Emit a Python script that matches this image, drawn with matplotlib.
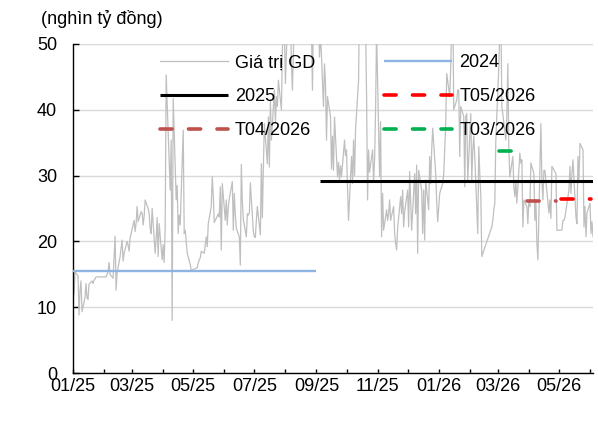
import pandas as pd
import matplotlib
matplotlib.use('Agg')
import matplotlib.pyplot as plt
import matplotlib.dates as mdates

plt.rcParams['font.family'] = ['Liberation Sans', 'DejaVu Sans']
plt.rcParams['font.size'] = 13

# Daily trading value (thousand bn VND), one list per month of trading days
jan25 = [12.0, 15.3, 14.8, 8.8, 12.5, 14.0, 9.3, 11.5, 13.6, 11.4, 11.2, 13.5, 14.0, 13.6, 14.1, 14.3, 14.6]
feb25 = [14.6, 15.0, 15.4, 16.8, 15.0, 14.4, 17.5, 20.8, 12.6, 15.2, 17.7, 19.0, 20.2, 17.0, 18.2, 20.0, 19.4, 18.5, 20.5, 21.2]
mar25 = [23.2, 21.5, 22.8, 25.3, 23.0, 24.5, 24.3, 22.5, 23.8, 26.3, 25.0, 24.3, 22.0, 21.2, 25.0, 18.2, 20.5, 23.6, 17.7, 22.7, 17.2]
apr25 = [19.5, 16.8, 22.0, 45.3, 27.8, 35.4, 8.0, 41.7, 26.3, 28.5, 21.2, 24.0, 22.5, 36.9, 21.2, 21.7, 20.0, 18.2, 16.5, 15.6]
may25 = [16.0, 16.7, 17.2, 17.5, 18.5, 18.2, 19.5, 20.7, 19.2, 22.7, 25.3, 29.8, 27.0, 22.9, 23.2, 24.2, 23.7, 28.3, 18.7, 28.8]
jun25 = [23.2, 26.3, 22.5, 25.3, 26.5, 29.1, 21.7, 27.3, 24.0, 22.0, 20.7, 16.4, 31.7, 26.0, 23.3, 20.7, 24.2, 24.0, 24.3, 28.9, 21.5]
jul25 = [20.7, 20.6, 23.2, 25.3, 21.0, 31.8, 23.6, 31.3, 37.9, 31.8, 38.9, 31.3, 41.5, 35.4, 43.0, 37.9, 42.0, 40.5, 44.5, 40.0, 49.0, 55.0, 52.0]
aug25 = [44.0, 58.0, 62.0, 55.0, 47.0, 43.0, 60.0, 65.0, 58.0, 70.0, 66.0, 75.0, 62.0, 68.0, 72.0, 60.0, 64.0, 57.0, 52.0, 43.0, 55.0]
sep25 = [55.0, 48.0, 52.0, 40.5, 47.0, 44.0, 35.4, 42.0, 39.0, 31.0, 36.0, 30.8, 38.9, 29.8, 32.0, 29.3, 31.5, 29.8, 35.4, 33.0]
oct25 = [33.9, 28.0, 23.2, 32.9, 28.8, 35.4, 30.0, 36.9, 44.5, 58.0, 62.0, 55.0, 60.0, 53.0, 42.0, 26.3, 33.9, 30.5, 33.9, 29.0, 32.4, 40.0, 52.0]
nov25 = [29.8, 38.2, 20.7, 27.3, 21.7, 24.8, 23.2, 24.2, 26.3, 23.2, 25.3, 21.2, 19.7, 18.7, 22.0, 26.8, 24.2, 27.8, 22.2, 24.5]
dec25 = [27.8, 22.2, 30.6, 26.0, 21.7, 30.3, 24.2, 31.6, 18.2, 30.8, 27.8, 21.2, 27.8, 20.2, 29.3, 24.8, 32.9, 28.8, 33.9, 37.2, 30.3, 26.0, 23.0]
jan26 = [27.3, 28.8, 30.3, 33.9, 37.9, 45.5, 42.0, 46.5, 54.0, 58.0, 40.0, 41.5, 43.0, 43.0, 32.9, 40.5, 39.0, 28.3, 39.0, 39.4, 29.3]
feb26 = [39.4, 29.3, 33.9, 36.0, 32.9, 21.2, 34.4, 30.3, 27.0, 17.7, 22.2, 23.2, 24.8, 25.8, 35.4]
mar26 = [46.5, 52.0, 56.0, 40.5, 39.4, 35.4, 39.0, 47.0, 33.9, 29.8, 32.9, 28.3, 26.8, 29.3, 25.8, 33.4, 31.9, 32.4, 22.2, 26.3, 25.3, 22.7]
apr26 = [26.3, 25.3, 31.9, 30.3, 23.2, 26.3, 19.7, 17.2, 37.9, 29.3, 26.3, 30.8, 30.8, 25.8, 24.3, 26.3, 23.5, 31.4, 30.3, 21.7]
may26 = [21.7, 23.2, 23.2, 23.7, 24.7, 27.8, 31.4, 27.3, 30.3, 32.4, 23.7, 22.7, 32.9, 29.3, 34.9, 33.9, 22.2, 25.3, 20.7, 24.3]
jun26 = [25.8, 21.2, 23.0, 20.7]

# Market holidays (no trading)
holidays = ['2025-01-01', '2025-01-27', '2025-01-28', '2025-01-29', '2025-01-30', '2025-01-31',
            '2025-04-07', '2025-04-30', '2025-05-01', '2025-05-02', '2025-09-01', '2025-09-02',
            '2026-01-01', '2026-02-16', '2026-02-17', '2026-02-18', '2026-02-19', '2026-02-20',
            '2026-04-27', '2026-04-30', '2026-05-01']

# Average lines: value, start, end
avg_2024 = [15.5, '2025-01-01', '2025-09-01']
avg_2025 = [29.2, '2025-09-05', '2026-06-04']
avg_t03 = [33.7, '2026-03-02', '2026-03-27']
avg_t04 = [26.2, '2026-03-30', '2026-04-28']
avg_t05 = [26.4, '2026-05-03', '2026-06-02']

values = (jan25 + feb25 + mar25 + apr25 + may25 + jun25 + jul25 + aug25 + sep25 +
          oct25 + nov25 + dec25 + jan26 + feb26 + mar26 + apr26 + may26 + jun26)
days = pd.bdate_range('2025-01-01', '2026-06-30')
days = days[~days.isin(pd.to_datetime(holidays))][:len(values)]

fig = plt.figure(figsize=(5.98, 4.23), dpi=100)
ax = fig.add_axes([73 / 598, 50 / 423, 520 / 598, 329 / 423])

gd, = ax.plot(days, values, color='#BFBFBF', lw=0.9, zorder=2, label='Giá trị GD')


def avg_line(spec, color, lw, label, dashed=False):
    x = pd.to_datetime([spec[1], spec[2]])
    line, = ax.plot(x, [spec[0], spec[0]], color=color, lw=lw, label=label, zorder=3,
                    solid_capstyle='butt')
    if dashed:
        line.set_dashes((3.35, 4.54))
        line.set_dash_capstyle('round')
    return line


l2024 = avg_line(avg_2024, '#8EB4E3', 1.7, '2024')
l2025 = avg_line(avg_2025, 'black', 2.2, '2025')
l05 = avg_line(avg_t05, '#FF0000', 2.6, 'T05/2026', dashed=True)
l04 = avg_line(avg_t04, '#C0504D', 2.6, 'T04/2026', dashed=True)
l03 = avg_line(avg_t03, '#00B050', 2.6, 'T03/2026', dashed=True)

ax.set_ylim(0, 50)
ax.set_yticks(range(0, 51, 10))
ax.set_xlim(pd.Timestamp('2025-01-01'), pd.Timestamp('2026-06-04'))
ax.xaxis.set_major_locator(mdates.MonthLocator(bymonth=[1, 3, 5, 7, 9, 11]))
ax.xaxis.set_minor_locator(mdates.MonthLocator())
ax.xaxis.set_major_formatter(mdates.DateFormatter('%m/%y'))

ax.grid(axis='y', color='#D9D9D9', lw=1.0, zorder=0)
ax.set_axisbelow(True)
for s in ['top', 'right']:
    ax.spines[s].set_visible(False)
for s in ['left', 'bottom']:
    ax.spines[s].set_linewidth(1.0)
ax.tick_params(axis='y', direction='in', length=4.3, width=1.0, pad=11.5, labelsize=13)
ax.tick_params(axis='x', which='both', direction='in', length=3.1, width=1.0, pad=3.5, labelsize=13)

fig.text(41 / 598, (423 - 23.5) / 423, '(nghìn tỷ đồng)', fontsize=13, va='baseline')

ax.legend(handles=[gd, l2025, l04, l2024, l05, l03], ncol=2, frameon=False,
          loc='upper left', bbox_to_anchor=(159.5 / 598, (423 - 54.5) / 423),
          bbox_transform=fig.transFigure, borderpad=0, borderaxespad=0,
          handlelength=3.77, handletextpad=0.4, columnspacing=3.83,
          labelspacing=0.93, fontsize=13)

fig.savefig('out.png', dpi=100)
